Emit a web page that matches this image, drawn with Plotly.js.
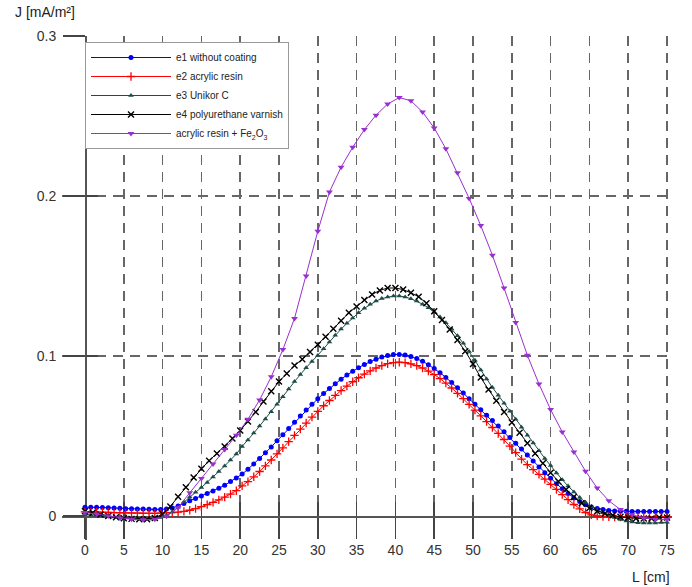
<!DOCTYPE html>
<html>
<head>
<meta charset="utf-8">
<script src="https://cdn.plot.ly/plotly-3.0.1.min.js"></script>
<style>html,body{margin:0;padding:0;background:#fff;}#chart{width:692px;height:587px;}</style>
</head>
<body>
<div id="chart"></div>
<script>
// Sampling grids (position along sample, cm)
const L_fine = Array.from({length: 101}, (_, i) => +(i * 0.75).toFixed(2));
const L_x = Array.from({length: 76}, (_, i) => i);
const L_purple = Array.from({length: 51}, (_, i) => +(i * 1.5).toFixed(2));

const seriesNames = ["e1 without coating", "e2 acrylic resin", "e3 Unikor C",
  "e4 polyurethane varnish", "acrylic resin + Fe<sub>2</sub>O<sub>3</sub>"];

const J_e1 = [0.0055,0.0055,0.0054,0.0053,0.0052,0.005,0.0048,0.0046,0.0045,0.0044,
  0.0043,0.0042,0.0041,0.0041,0.0043,0.005,0.0062,0.0078,0.0095,0.011,
  0.0125,0.014,0.0157,0.0174,0.0192,0.0215,0.0238,0.0262,0.0292,0.0325,
  0.036,0.0395,0.0432,0.047,0.0508,0.0547,0.0586,0.0625,0.0662,0.0698,
  0.0733,0.0766,0.0797,0.0827,0.0855,0.0881,0.0905,0.0927,0.0947,0.0965,
  0.098,0.0993,0.1003,0.1009,0.101,0.1006,0.0997,0.0984,0.0967,0.0946,
  0.0922,0.0895,0.0866,0.0835,0.0802,0.0768,0.0733,0.0698,0.0664,0.063,
  0.0597,0.0562,0.0527,0.0491,0.0455,0.0418,0.0381,0.0344,0.0307,0.0271,
  0.0236,0.0202,0.017,0.014,0.0113,0.009,0.0071,0.0057,0.0047,0.004,
  0.0035,0.0032,0.003,0.0029,0.0028,0.0028,0.0028,0.0028,0.0028,0.0028,0.0028];

const J_e2 = [0.0026,0.0025,0.0024,0.0023,0.0022,0.0021,0.002,0.0019,0.0018,0.0018,
  0.0017,0.0017,0.0017,0.0018,0.0019,0.0021,0.0024,0.0029,0.0036,0.0046,
  0.0058,0.0071,0.0085,0.0101,0.0118,0.0137,0.0158,0.0188,0.0215,0.0245,
  0.0278,0.0313,0.035,0.0388,0.0426,0.0465,0.0504,0.0543,0.0581,0.0618,
  0.0654,0.0689,0.0722,0.0754,0.0784,0.0812,0.0839,0.0864,0.0887,0.0907,
  0.0925,0.094,0.0952,0.0959,0.0961,0.0958,0.0951,0.094,0.0925,0.0906,
  0.0884,0.0859,0.0831,0.08,0.0767,0.0733,0.0698,0.0662,0.0626,0.059,
  0.0553,0.0516,0.0478,0.0437,0.0396,0.0355,0.0321,0.029,0.026,0.023,
  0.0198,0.0166,0.0134,0.0102,0.0072,0.0045,0.0022,0.0007,0.0,-0.0003,
  -0.0005,-0.0006,-0.0006,-0.0006,-0.0006,-0.0006,-0.0006,-0.0006,-0.0006,-0.0006,-0.0006];

const J_e3 = [0.001,0.0007,0.0004,0.0001,-0.0003,-0.0007,-0.001,-0.0013,-0.0016,-0.0018,
  -0.0019,-0.0019,-0.0016,-0.001,0.0003,0.0025,0.0055,0.0088,0.0118,0.0148,
  0.0178,0.021,0.0243,0.0278,0.0313,0.035,0.0387,0.0435,0.0475,0.0518,
  0.0562,0.0607,0.0652,0.0698,0.0745,0.0793,0.084,0.0885,0.0927,0.0966,
  0.1003,0.1045,0.1088,0.113,0.1168,0.1204,0.1238,0.127,0.1298,0.1323,
  0.1343,0.1359,0.1369,0.1375,0.1375,0.1369,0.1358,0.1343,0.1324,0.1301,
  0.1274,0.1243,0.1208,0.1169,0.1126,0.1079,0.1028,0.0973,0.0913,0.0856,
  0.0803,0.0755,0.0705,0.0655,0.0605,0.0555,0.0505,0.0456,0.0408,0.036,
  0.0315,0.0269,0.0227,0.0187,0.015,0.0116,0.0086,0.006,0.0038,0.002,
  0.0004,-0.001,-0.0022,-0.0032,-0.0038,-0.0042,-0.0044,-0.0044,-0.0043,-0.0041,-0.0039];

const J_e4 = [0.003,0.002,0.001,0.0,-0.0008,-0.0014,-0.0018,-0.002,-0.002,-0.0012,
  0.0012,0.006,0.012,0.018,0.024,0.0295,0.0345,0.039,0.0435,0.0485,
  0.0535,0.059,0.065,0.0715,0.078,0.084,0.089,0.094,0.098,0.1025,
  0.107,0.112,0.117,0.122,0.127,0.131,0.135,0.1385,0.141,0.1425,
  0.1425,0.1415,0.1395,0.137,0.133,0.128,0.1225,0.1165,0.11,0.103,
  0.095,0.0865,0.079,0.072,0.065,0.0585,0.052,0.0455,0.039,0.033,
  0.027,0.0215,0.0165,0.012,0.008,0.005,0.003,0.0015,0.0005,-0.0005,
  -0.001,-0.0015,-0.0015,-0.0015,-0.001,-0.001];

const J_fe = [0.0022,0.0012,0.0,-0.0012,-0.002,-0.0024,-0.002,-0.0002,0.0052,0.0145,
  0.0235,0.0325,0.0415,0.0505,0.0605,0.0725,0.087,0.104,0.1235,0.15,
  0.178,0.2025,0.218,0.2305,0.2415,0.2505,0.2575,0.2615,0.2595,0.2525,
  0.2425,0.2295,0.2145,0.1985,0.1815,0.163,0.1425,0.121,0.1005,0.0825,
  0.0665,0.0525,0.04,0.028,0.0175,0.0095,0.004,0.0008,-0.0012,-0.002,-0.0022];

const xTicks = [0,5,10,15,20,25,30,35,40,45,50,55,60,65,70,75];
const xGrid = [5,10,15,20,25,30,35,40,45,50,55,60,65,70,75];
const yTicks = [0, 0.1, 0.2, 0.3];
const yTickText = ["0", "0.1", "0.2", "0.3"];
const yGrid = [0.1, 0.2, 0.3];

const FONT = "Liberation Sans, Arial, sans-serif";
const traces = [
  {x: L_fine, y: J_e1, name: seriesNames[0], mode: "lines+markers",
   line: {color: "#0000ff", width: 1}, marker: {symbol: "circle", size: 5, color: "#0000ff"}},
  {x: L_fine, y: J_e2, name: seriesNames[1], mode: "lines+markers",
   line: {color: "#ff0000", width: 1}, marker: {symbol: "cross-thin", size: 6, color: "#ff0000", line: {color: "#ff0000", width: 1.3}}},
  {x: L_fine, y: J_e3, name: seriesNames[2], mode: "lines+markers",
   line: {color: "#1e4d47", width: 1}, marker: {symbol: "triangle-up", size: 5, color: "#1e4d47"}},
  {x: L_x, y: J_e4, name: seriesNames[3], mode: "lines+markers",
   line: {color: "#000000", width: 1}, marker: {symbol: "x-thin", size: 6, color: "#000", line: {color: "#000", width: 1.4}}},
  {x: L_purple, y: J_fe, name: seriesNames[4], mode: "lines+markers",
   line: {color: "#9a2fd0", width: 1}, marker: {symbol: "triangle-down", size: 6, color: "#9a2fd0"}},
  {x: [], y: [], xaxis: "x2", yaxis: "y2", showlegend: false, hoverinfo: "skip"}
];

const xRange = [-2.96, 75.64];
const yRange = [-0.015, 0.3];
const axisCol = "#444";
const gridStyle = {showgrid: true, gridcolor: "#666", gridwidth: 1.6, griddash: "10px,7px"};

const layout = {
  width: 692, height: 587,
  margin: {l: 62, r: 20, t: 36, b: 47},
  paper_bgcolor: "#fff", plot_bgcolor: "#fff",
  font: {family: FONT, color: "#222"},
  showlegend: true,
  xaxis: {
    range: xRange, tickvals: xTicks, ticks: "outside", ticklen: 21, tickwidth: 1.6, tickcolor: axisCol,
    showline: true, linecolor: "#555", linewidth: 1.5, zeroline: false, showgrid: false,
    anchor: "free", position: 24 / 504, layer: "below traces",
    tickfont: {family: FONT, size: 14, color: "#333"}
  },
  xaxis2: Object.assign({
    overlaying: "x", range: xRange, tickvals: xGrid, ticks: "inside", ticklen: 14, tickwidth: 1.6, tickcolor: axisCol,
    showticklabels: false, showline: false, zeroline: false,
    anchor: "free", position: 24 / 504, layer: "below traces"
  }, gridStyle),
  yaxis: {
    range: yRange, tickvals: yTicks, ticktext: yTickText, ticks: "outside", ticklen: 22, tickwidth: 1.6, tickcolor: axisCol,
    showline: true, linecolor: "#555", linewidth: 1.5, zeroline: false, showgrid: false,
    anchor: "free", position: 23 / 610, ticklabelstandoff: 4, layer: "below traces",
    tickfont: {family: FONT, size: 14, color: "#333"}
  },
  yaxis2: Object.assign({
    overlaying: "y", range: yRange, tickvals: yGrid, ticks: "inside", ticklen: 12, tickwidth: 1.6, tickcolor: axisCol,
    showticklabels: false, showline: false, zeroline: false,
    anchor: "free", position: 23 / 610, side: "left", layer: "below traces"
  }, gridStyle),
  legend: {
    x: 23 / 610, y: (540 - 42) / 504, xanchor: "left", yanchor: "top",
    bgcolor: "#fff", bordercolor: "#999", borderwidth: 1,
    font: {family: FONT, size: 10, color: "#222"}, itemwidth: 80, tracegroupgap: 0
  },
  annotations: [
    {text: "J [mA/m²]", xref: "paper", yref: "paper", x: -49 / 610, y: (540 - 12) / 504,
     xanchor: "left", yanchor: "middle", showarrow: false, font: {family: FONT, size: 14, color: "#222"}},
    {text: "L [cm]", xref: "paper", yref: "paper", x: 1.0, y: (540 - 577) / 504,
     xanchor: "right", yanchor: "middle", showarrow: false, font: {family: FONT, size: 14, color: "#222"}}
  ]
};

Plotly.newPlot("chart", traces, layout, {displayModeBar: false, staticPlot: true});
</script>
</body>
</html>
